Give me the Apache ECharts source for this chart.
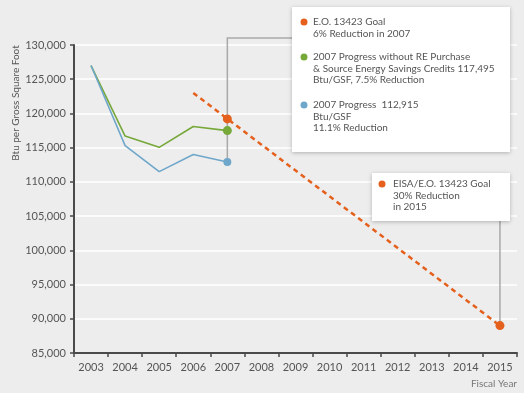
<!DOCTYPE html>
<html>
<head>
<meta charset="utf-8">
<script src="https://cdn.jsdelivr.net/npm/echarts@6/dist/echarts.min.js"></script>
<style>
html,body{margin:0;padding:0;background:#ededed;}
#c{width:524px;height:393px;}
</style>
</head>
<body>
<div id="c"></div>
<script>
var years = ['2003','2004','2005','2006','2007','2008','2009','2010','2011','2012','2013','2014','2015'];
var progressNoRE = [127000,116700,115050,118100,117495,null,null,null,null,null,null,null,null];
var progress = [127000,115300,111500,114000,112915,null,null,null,null,null,null,null,null];
var goalTrend = [null,null,null,123000,null,null,null,null,null,null,null,null,89000];
var goalPoints = [null,null,null,null,119200,null,null,null,null,null,null,null,89000];
var yTicks = [85000,90000,95000,100000,105000,110000,115000,120000,125000,130000];

var callout1 = [
  {color:'#e4601c', lines:['E.O. 13423 Goal','6% Reduction in 2007']},
  {color:'#77a83a', lines:['2007 Progress without RE Purchase','& Source Energy Savings Credits 117,495','Btu/GSF, 7.5% Reduction']},
  {color:'#6fa7cb', lines:['2007 Progress  112,915','Btu/GSF','11.1% Reduction']}
];
var callout2 = {color:'#e4601c', lines:['EISA/E.O. 13423 Goal','30% Reduction','in 2015']};

var FONT = 'Lato, "Open Sans", sans-serif';
var chart = echarts.init(document.getElementById('c'));
var option = {
  backgroundColor:'#ededed',
  animation:false,
  grid:{left:74,right:7,top:45,bottom:40},
  xAxis:{
    type:'category', data:years, boundaryGap:true,
    axisLine:{lineStyle:{color:'#4a4a4a',width:2}},
    axisTick:{show:true,length:4,lineStyle:{color:'#4a4a4a',width:1.5}},
    axisLabel:{color:'#555',fontSize:11,fontFamily:FONT,margin:9}
  },
  yAxis:{
    type:'value', min:yTicks[0], max:yTicks[yTicks.length-1], interval:5000,
    axisLine:{show:true,lineStyle:{color:'#4a4a4a',width:2}},
    axisTick:{show:true,length:4,lineStyle:{color:'#4a4a4a',width:1.5}},
    splitLine:{lineStyle:{color:'#ffffff',width:1.5}},
    axisLabel:{color:'#555',fontSize:11,fontFamily:FONT,margin:8,
      formatter:function(v){return v.toLocaleString('en-US');}}
  },
  series:[
    {type:'line',data:goalTrend,connectNulls:true,symbol:'none',z:3,
      lineStyle:{color:'#e4601c',width:2.5,type:[5,4]}},
    {type:'line',data:progressNoRE,symbol:'none',z:4,
      lineStyle:{color:'#77a83a',width:1.6}},
    {type:'line',data:progress,symbol:'none',z:4,
      lineStyle:{color:'#6fa7cb',width:1.6}},
    {type:'scatter',data:[[4,progressNoRE[4]]],symbolSize:9,z:6,itemStyle:{color:'#77a83a',opacity:1}},
    {type:'scatter',data:[[4,progress[4]]],symbolSize:8,z:6,itemStyle:{color:'#6fa7cb',opacity:1}},
    {type:'scatter',data:goalPoints.map(function(v,i){return v==null?null:[i,v];}).filter(function(d){return d;}),
      symbolSize:9,z:6,itemStyle:{color:'#e4601c',opacity:1}}
  ]
};
chart.setOption(option);

function box(x,y,w,h){
  return {type:'rect',z:100,shape:{x:x,y:y,width:w,height:h},
    style:{fill:'#ffffff',shadowBlur:4,shadowColor:'rgba(0,0,0,0.25)',shadowOffsetY:1}};
}
var els = [];
var p2007b = chart.convertToPixel({gridIndex:0},[4,progress[4]]);
var p2015 = chart.convertToPixel({gridIndex:0},[12,goalPoints[12]]);
// connectors
els.push({type:'polyline',z:1,shape:{points:[[292,38],[p2007b[0],38],[p2007b[0],p2007b[1]]]},
  style:{stroke:'#a9a9a9',lineWidth:1.5,fill:null}});
els.push({type:'line',z:1,shape:{x1:p2015[0],y1:221,x2:p2015[0],y2:p2015[1]},
  style:{stroke:'#a9a9a9',lineWidth:1.5}});
// box 1
els.push(box(292,7,218,145));
var starts = [22,57,105];
callout1.forEach(function(g,gi){
  els.push({type:'circle',z:101,shape:{cx:304,cy:starts[gi],r:3.5},style:{fill:g.color}});
  g.lines.forEach(function(t,li){
    els.push({type:'text',z:101,x:313,y:starts[gi]+li*11.6,
      style:{text:t,fill:'#555',font:'10px '+FONT,verticalAlign:'middle'}});
  });
});
// box 2
els.push(box(372,173,138,48));
els.push({type:'circle',z:101,shape:{cx:382,cy:184,r:3.5},style:{fill:callout2.color}});
callout2.lines.forEach(function(t,li){
  els.push({type:'text',z:101,x:393,y:184+li*11.3,
    style:{text:t,fill:'#555',font:'10px '+FONT,verticalAlign:'middle'}});
});
// axis titles
els.push({type:'text',x:16,y:103,rotation:Math.PI/2,
  style:{text:'Btu per Gross Square Foot',fill:'#555',font:'10px '+FONT,align:'center',verticalAlign:'middle'}});
els.push({type:'text',x:517,y:384,
  style:{text:'Fiscal Year',fill:'#777',font:'10px '+FONT,align:'right',verticalAlign:'middle'}});
chart.setOption({graphic:{elements:els}});
</script>
</body>
</html>
